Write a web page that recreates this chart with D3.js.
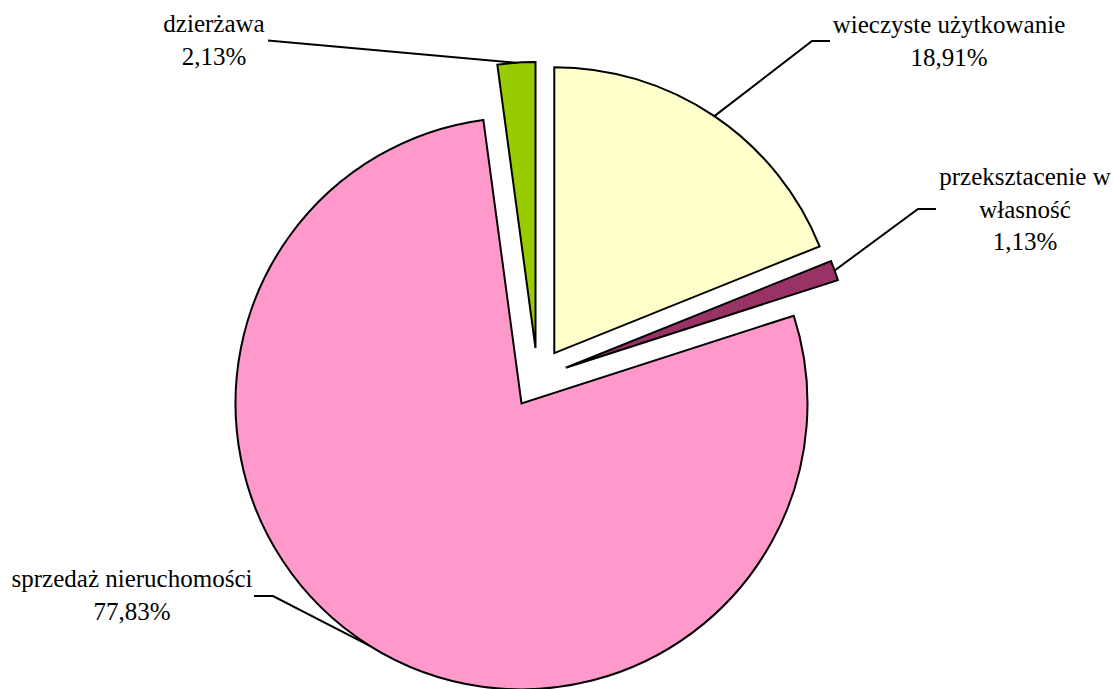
<!DOCTYPE html>
<html>
<head>
<meta charset="utf-8">
<script src="https://cdn.jsdelivr.net/npm/d3@7"></script>
<style>
    body { margin: 0; background: #fff; }
    text { font-family: "Liberation Serif", "Times New Roman", serif; font-size: 25px; fill: #000; }
</style>
</head>

<body>
    <script>
        // data
        var categories = ["wieczyste użytkowanie", "przeksztacenie w\nwłasność", "sprzedaż nieruchomości", "dzierżawa"];
        var values = [18.91, 1.13, 77.83, 2.13];
        var colors = ["#FFFFCC", "#993366", "#FF99CC", "#99CC00"];

        var width = 1113;
        var height = 689;
        var cx = 537.5, cy = 378;
        var radius = 286;
        var explode = 30;

        // label placement (center x, first baseline, leader start points)
        var labelLayout = [
            { x: 949, y: 33, leader: [[830, 41], [812, 41]] },
            { x: 1025, y: 185, leader: [[936, 209], [918, 209]] },
            { x: 132, y: 587, leader: [[254, 596], [273, 596]] },
            { x: 214, y: 32, leader: [[268, 40.5]] }
        ];
        var lineStep = 32.5;

        var svg = d3.select("body").append("svg")
            .attr("width", width)
            .attr("height", height);

        var pie = d3.pie().sort(null).value(d => d);
        var arcs = pie(values);
        var arc = d3.arc().innerRadius(0).outerRadius(radius);

        function dir(a) { return [Math.sin(a), -Math.cos(a)]; }

        var vis = svg.append("g").attr("transform", `translate(${cx},${cy})`);

        vis.selectAll(".slice").data(arcs).enter().append("path")
            .attr("class", "slice")
            .attr("d", arc)
            .attr("transform", d => {
                var u = dir((d.startAngle + d.endAngle) / 2);
                return `translate(${u[0] * explode},${u[1] * explode})`;
            })
            .attr("fill", (d, i) => colors[i])
            .attr("stroke", "#000")
            .attr("stroke-width", 2)
            .attr("stroke-linejoin", "miter");

        // leader lines to the middle of each slice's outer edge
        arcs.forEach((d, i) => {
            var u = dir((d.startAngle + d.endAngle) / 2);
            var end = [cx + u[0] * (explode + radius), cy + u[1] * (explode + radius)];
            var pts = labelLayout[i].leader.concat([end]);
            svg.append("path")
                .attr("d", d3.line()(pts))
                .attr("fill", "none")
                .attr("stroke", "#000")
                .attr("stroke-width", 2);
        });

        // labels
        categories.forEach((c, i) => {
            var lines = c.split("\n").concat([values[i].toFixed(2).replace(".", ",") + "%"]);
            var t = svg.append("text")
                .attr("text-anchor", "middle");
            lines.forEach((l, j) => {
                t.append("tspan")
                    .attr("x", labelLayout[i].x)
                    .attr("y", labelLayout[i].y + j * lineStep)
                    .text(l);
            });
        });
    </script>
</body>

</html>
